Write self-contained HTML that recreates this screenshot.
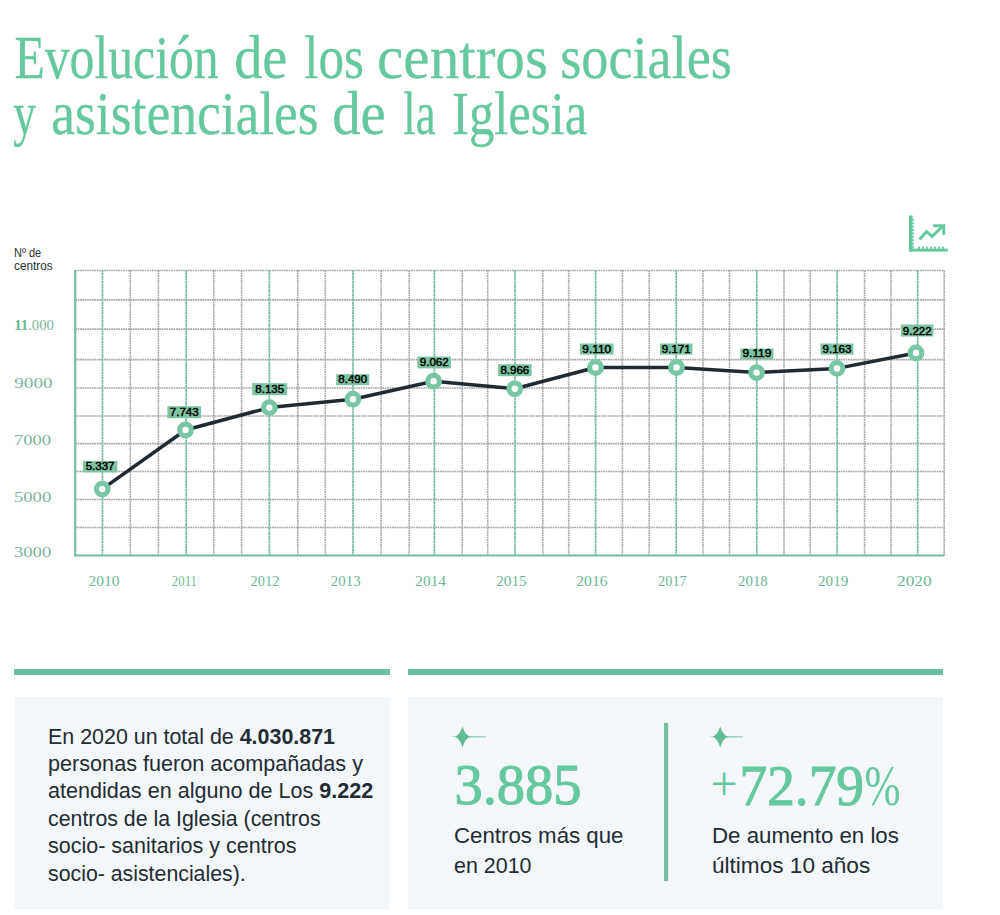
<!DOCTYPE html>
<html><head><meta charset="utf-8"><title>Evolución de los centros sociales y asistenciales de la Iglesia</title>
<style>
html,body{margin:0;padding:0;background:#fff;}
body{width:1000px;height:915px;position:relative;overflow:hidden;}
.full{position:absolute;left:0;top:0;display:block;}
.ti{font-family:"Liberation Serif",serif;font-size:62px;fill:#66c89e;stroke:#66c89e;stroke-width:0.3px;}
.lb{font-family:"Liberation Sans",sans-serif;font-size:11px;font-weight:400;fill:#000;stroke:#000;stroke-width:0.45px;}
.yr{font-family:"Liberation Serif",serif;font-size:15.5px;fill:#6db796;}
.yl{font-family:"Liberation Serif",serif;font-size:15.5px;fill:#80b3a0;}
.nd{font-family:"Liberation Sans",sans-serif;font-size:12px;fill:#2a2f33;}
.bd{font-family:"Liberation Sans",sans-serif;font-size:21.5px;fill:#232b33;}
.bg{font-family:"Liberation Serif",serif;font-size:58px;font-weight:400;fill:#66c89e;stroke:#66c89e;stroke-width:1.1px;}
</style></head><body>
<svg class="full" width="1000" height="915" viewBox="0 0 1000 915">
<text x="14.4" y="78.0" class="ti" textLength="204.3" lengthAdjust="spacingAndGlyphs">Evolución</text>
<text x="234.2" y="78.0" class="ti" textLength="53.2" lengthAdjust="spacingAndGlyphs">de</text>
<text x="304.2" y="78.0" class="ti" textLength="59.8" lengthAdjust="spacingAndGlyphs">los</text>
<text x="377.1" y="78.0" class="ti" textLength="170.9" lengthAdjust="spacingAndGlyphs">centros</text>
<text x="560.2" y="78.0" class="ti" textLength="171.7" lengthAdjust="spacingAndGlyphs">sociales</text>
<text x="13.3" y="134.0" class="ti" textLength="22.7" lengthAdjust="spacingAndGlyphs">y</text>
<text x="51.3" y="134.0" class="ti" textLength="267.4" lengthAdjust="spacingAndGlyphs">asistenciales</text>
<text x="332.2" y="134.0" class="ti" textLength="53.6" lengthAdjust="spacingAndGlyphs">de</text>
<text x="403.3" y="134.0" class="ti" textLength="32.3" lengthAdjust="spacingAndGlyphs">la</text>
<text x="452.0" y="134.0" class="ti" textLength="135.2" lengthAdjust="spacingAndGlyphs">Iglesia</text>
<line x1="75.2" y1="270.5" x2="944.2" y2="270.5" stroke="#a4a4a4" stroke-width="1.6" stroke-dasharray="1.7 0.7"/>
<line x1="75.2" y1="299.9" x2="944.2" y2="299.9" stroke="#a4a4a4" stroke-width="1.6" stroke-dasharray="1.7 0.7"/>
<line x1="75.2" y1="329.1" x2="944.2" y2="329.1" stroke="#a4a4a4" stroke-width="1.6" stroke-dasharray="1.7 0.7"/>
<line x1="75.2" y1="359.6" x2="944.2" y2="359.6" stroke="#a4a4a4" stroke-width="1.6" stroke-dasharray="1.7 0.7"/>
<line x1="75.2" y1="388.0" x2="944.2" y2="388.0" stroke="#a4a4a4" stroke-width="1.6" stroke-dasharray="1.7 0.7"/>
<line x1="75.2" y1="416.0" x2="944.2" y2="416.0" stroke="#a4a4a4" stroke-width="1.6" stroke-dasharray="1.7 0.7"/>
<line x1="75.2" y1="443.6" x2="944.2" y2="443.6" stroke="#a4a4a4" stroke-width="1.6" stroke-dasharray="1.7 0.7"/>
<line x1="75.2" y1="471.5" x2="944.2" y2="471.5" stroke="#a4a4a4" stroke-width="1.6" stroke-dasharray="1.7 0.7"/>
<line x1="75.2" y1="499.5" x2="944.2" y2="499.5" stroke="#a4a4a4" stroke-width="1.6" stroke-dasharray="1.7 0.7"/>
<line x1="75.2" y1="527.5" x2="944.2" y2="527.5" stroke="#a4a4a4" stroke-width="1.6" stroke-dasharray="1.7 0.7"/>
<line x1="102.5" y1="270.5" x2="102.5" y2="555.5" stroke="#72b9a1" stroke-width="1.7" stroke-dasharray="2.2 0.4"/>
<line x1="130.3" y1="270.5" x2="130.3" y2="555.5" stroke="#a4a4a4" stroke-width="1.6" stroke-dasharray="1.7 0.7"/>
<line x1="158.4" y1="270.5" x2="158.4" y2="555.5" stroke="#a4a4a4" stroke-width="1.6" stroke-dasharray="1.7 0.7"/>
<line x1="186.2" y1="270.5" x2="186.2" y2="555.5" stroke="#72b9a1" stroke-width="1.7" stroke-dasharray="2.2 0.4"/>
<line x1="213.8" y1="270.5" x2="213.8" y2="555.5" stroke="#a4a4a4" stroke-width="1.6" stroke-dasharray="1.7 0.7"/>
<line x1="241.6" y1="270.5" x2="241.6" y2="555.5" stroke="#a4a4a4" stroke-width="1.6" stroke-dasharray="1.7 0.7"/>
<line x1="269.4" y1="270.5" x2="269.4" y2="555.5" stroke="#72b9a1" stroke-width="1.7" stroke-dasharray="2.2 0.4"/>
<line x1="297.8" y1="270.5" x2="297.8" y2="555.5" stroke="#a4a4a4" stroke-width="1.6" stroke-dasharray="1.7 0.7"/>
<line x1="325.3" y1="270.5" x2="325.3" y2="555.5" stroke="#a4a4a4" stroke-width="1.6" stroke-dasharray="1.7 0.7"/>
<line x1="353.0" y1="270.5" x2="353.0" y2="555.5" stroke="#72b9a1" stroke-width="1.7" stroke-dasharray="2.2 0.4"/>
<line x1="381.1" y1="270.5" x2="381.1" y2="555.5" stroke="#a4a4a4" stroke-width="1.6" stroke-dasharray="1.7 0.7"/>
<line x1="409.2" y1="270.5" x2="409.2" y2="555.5" stroke="#a4a4a4" stroke-width="1.6" stroke-dasharray="1.7 0.7"/>
<line x1="434.4" y1="270.5" x2="434.4" y2="555.5" stroke="#72b9a1" stroke-width="1.7" stroke-dasharray="2.2 0.4"/>
<line x1="462.2" y1="270.5" x2="462.2" y2="555.5" stroke="#a4a4a4" stroke-width="1.6" stroke-dasharray="1.7 0.7"/>
<line x1="487.7" y1="270.5" x2="487.7" y2="555.5" stroke="#a4a4a4" stroke-width="1.6" stroke-dasharray="1.7 0.7"/>
<line x1="515.0" y1="270.5" x2="515.0" y2="555.5" stroke="#72b9a1" stroke-width="1.7" stroke-dasharray="2.2 0.4"/>
<line x1="542.8" y1="270.5" x2="542.8" y2="555.5" stroke="#a4a4a4" stroke-width="1.6" stroke-dasharray="1.7 0.7"/>
<line x1="568.7" y1="270.5" x2="568.7" y2="555.5" stroke="#a4a4a4" stroke-width="1.6" stroke-dasharray="1.7 0.7"/>
<line x1="595.6" y1="270.5" x2="595.6" y2="555.5" stroke="#72b9a1" stroke-width="1.7" stroke-dasharray="2.2 0.4"/>
<line x1="622.4" y1="270.5" x2="622.4" y2="555.5" stroke="#a4a4a4" stroke-width="1.6" stroke-dasharray="1.7 0.7"/>
<line x1="649.2" y1="270.5" x2="649.2" y2="555.5" stroke="#a4a4a4" stroke-width="1.6" stroke-dasharray="1.7 0.7"/>
<line x1="676.2" y1="270.5" x2="676.2" y2="555.5" stroke="#72b9a1" stroke-width="1.7" stroke-dasharray="2.2 0.4"/>
<line x1="703.0" y1="270.5" x2="703.0" y2="555.5" stroke="#a4a4a4" stroke-width="1.6" stroke-dasharray="1.7 0.7"/>
<line x1="729.5" y1="270.5" x2="729.5" y2="555.5" stroke="#a4a4a4" stroke-width="1.6" stroke-dasharray="1.7 0.7"/>
<line x1="756.8" y1="270.5" x2="756.8" y2="555.5" stroke="#72b9a1" stroke-width="1.7" stroke-dasharray="2.2 0.4"/>
<line x1="784.0" y1="270.5" x2="784.0" y2="555.5" stroke="#a4a4a4" stroke-width="1.6" stroke-dasharray="1.7 0.7"/>
<line x1="810.2" y1="270.5" x2="810.2" y2="555.5" stroke="#a4a4a4" stroke-width="1.6" stroke-dasharray="1.7 0.7"/>
<line x1="837.2" y1="270.5" x2="837.2" y2="555.5" stroke="#72b9a1" stroke-width="1.7" stroke-dasharray="2.2 0.4"/>
<line x1="864.6" y1="270.5" x2="864.6" y2="555.5" stroke="#a4a4a4" stroke-width="1.6" stroke-dasharray="1.7 0.7"/>
<line x1="891.0" y1="270.5" x2="891.0" y2="555.5" stroke="#a4a4a4" stroke-width="1.6" stroke-dasharray="1.7 0.7"/>
<line x1="917.7" y1="270.5" x2="917.7" y2="555.5" stroke="#72b9a1" stroke-width="1.7" stroke-dasharray="2.2 0.4"/>
<line x1="944.2" y1="270.5" x2="944.2" y2="555.5" stroke="#a4a4a4" stroke-width="1.6" stroke-dasharray="1.7 0.7"/>
<line x1="75.2" y1="270.0" x2="75.2" y2="556.5" stroke="#78bca3" stroke-width="2.2"/>
<line x1="74.2" y1="555.5" x2="944.2" y2="555.5" stroke="#78bca3" stroke-width="2.2"/>
<path d="M102.2,489.1 L185.5,430.0 L269.3,407.6 L352.9,399.2 L433.6,381.2 L514.8,388.8 L595.5,367.5 L676.5,367.5 L756.6,372.6 L837.0,368.4 L916.0,353.0" fill="none" stroke="#1f2a32" stroke-width="3.5" stroke-linejoin="round"/>
<circle cx="102.2" cy="489.1" r="5.8" fill="#fff" stroke="#79c6a4" stroke-width="5.2"/>
<circle cx="185.5" cy="430.0" r="5.8" fill="#fff" stroke="#79c6a4" stroke-width="5.2"/>
<circle cx="269.3" cy="407.6" r="5.8" fill="#fff" stroke="#79c6a4" stroke-width="5.2"/>
<circle cx="352.9" cy="399.2" r="5.8" fill="#fff" stroke="#79c6a4" stroke-width="5.2"/>
<circle cx="433.6" cy="381.2" r="5.8" fill="#fff" stroke="#79c6a4" stroke-width="5.2"/>
<circle cx="514.8" cy="388.8" r="5.8" fill="#fff" stroke="#79c6a4" stroke-width="5.2"/>
<circle cx="595.5" cy="367.5" r="5.8" fill="#fff" stroke="#79c6a4" stroke-width="5.2"/>
<circle cx="676.5" cy="367.5" r="5.8" fill="#fff" stroke="#79c6a4" stroke-width="5.2"/>
<circle cx="756.6" cy="372.6" r="5.8" fill="#fff" stroke="#79c6a4" stroke-width="5.2"/>
<circle cx="837.0" cy="368.4" r="5.8" fill="#fff" stroke="#79c6a4" stroke-width="5.2"/>
<circle cx="916.0" cy="353.0" r="5.8" fill="#fff" stroke="#79c6a4" stroke-width="5.2"/>
<rect x="82.9" y="460.9" width="34.4" height="11.5" fill="#7cc4a2"/>
<text x="85.7" y="470.4" class="lb" textLength="28.8" lengthAdjust="spacingAndGlyphs">5.337</text>
<rect x="167.4" y="406.2" width="33.6" height="12.0" fill="#7cc4a2"/>
<text x="169.8" y="416.2" class="lb" textLength="28.8" lengthAdjust="spacingAndGlyphs">7.743</text>
<rect x="252.2" y="383.2" width="35.0" height="12.0" fill="#7cc4a2"/>
<text x="255.3" y="393.2" class="lb" textLength="28.8" lengthAdjust="spacingAndGlyphs">8.135</text>
<rect x="336.2" y="374.2" width="33.0" height="11.0" fill="#7cc4a2"/>
<text x="338.3" y="383.2" class="lb" textLength="28.8" lengthAdjust="spacingAndGlyphs">8.490</text>
<rect x="417.4" y="356.6" width="33.6" height="11.8" fill="#7cc4a2"/>
<text x="419.8" y="366.4" class="lb" textLength="28.8" lengthAdjust="spacingAndGlyphs">9.062</text>
<rect x="498.0" y="364.2" width="33.6" height="12.0" fill="#7cc4a2"/>
<text x="500.4" y="374.2" class="lb" textLength="28.8" lengthAdjust="spacingAndGlyphs">8.966</text>
<rect x="579.9" y="343.5" width="33.6" height="11.1" fill="#7cc4a2"/>
<text x="582.3" y="352.6" class="lb" textLength="28.8" lengthAdjust="spacingAndGlyphs">9.110</text>
<rect x="660.0" y="343.5" width="32.4" height="11.1" fill="#7cc4a2"/>
<text x="661.8" y="352.6" class="lb" textLength="28.8" lengthAdjust="spacingAndGlyphs">9.171</text>
<rect x="740.4" y="348.6" width="33.0" height="10.8" fill="#7cc4a2"/>
<text x="742.5" y="357.4" class="lb" textLength="28.8" lengthAdjust="spacingAndGlyphs">9.119</text>
<rect x="820.5" y="343.5" width="33.0" height="11.1" fill="#7cc4a2"/>
<text x="822.6" y="352.6" class="lb" textLength="28.8" lengthAdjust="spacingAndGlyphs">9.163</text>
<rect x="901.0" y="324.5" width="32.4" height="12.0" fill="#7cc4a2"/>
<text x="902.8" y="334.5" class="lb" textLength="28.8" lengthAdjust="spacingAndGlyphs">9.222</text>
<text x="88.6" y="586.3" class="yr" textLength="31.0" lengthAdjust="spacingAndGlyphs">2010</text>
<text x="171.8" y="586.3" class="yr" textLength="25.2" lengthAdjust="spacingAndGlyphs">2011</text>
<text x="250.6" y="586.3" class="yr" textLength="28.9" lengthAdjust="spacingAndGlyphs">2012</text>
<text x="330.8" y="586.3" class="yr" textLength="29.8" lengthAdjust="spacingAndGlyphs">2013</text>
<text x="415.2" y="586.3" class="yr" textLength="30.8" lengthAdjust="spacingAndGlyphs">2014</text>
<text x="496.2" y="586.3" class="yr" textLength="30.4" lengthAdjust="spacingAndGlyphs">2015</text>
<text x="576.2" y="586.3" class="yr" textLength="31.4" lengthAdjust="spacingAndGlyphs">2016</text>
<text x="658.0" y="586.3" class="yr" textLength="28.8" lengthAdjust="spacingAndGlyphs">2017</text>
<text x="738.0" y="586.3" class="yr" textLength="29.8" lengthAdjust="spacingAndGlyphs">2018</text>
<text x="818.0" y="586.3" class="yr" textLength="30.4" lengthAdjust="spacingAndGlyphs">2019</text>
<text x="897.0" y="586.3" class="yr" textLength="34.6" lengthAdjust="spacingAndGlyphs">2020</text>
<text x="14.2" y="329.7" class="yl" textLength="39.8" lengthAdjust="spacingAndGlyphs"><tspan font-weight="700" fill="#6db897">11</tspan>.000</text>
<text x="14.2" y="387.5" class="yl" textLength="38.4" lengthAdjust="spacingAndGlyphs">9000</text>
<text x="13.9" y="444.9" class="yl" textLength="37.1" lengthAdjust="spacingAndGlyphs">7000</text>
<text x="13.9" y="501.5" class="yl" textLength="37.4" lengthAdjust="spacingAndGlyphs">5000</text>
<text x="13.9" y="557.0" class="yl" textLength="37.4" lengthAdjust="spacingAndGlyphs">3000</text>
<text x="14.0" y="256.8" class="nd" textLength="27.2" lengthAdjust="spacingAndGlyphs">Nº de</text>
<text x="14.0" y="269.6" class="nd" textLength="38.6" lengthAdjust="spacingAndGlyphs">centros</text>
<g fill="#66c89e">
<rect x="909" y="215.5" width="3.6" height="36"/>
<rect x="909" y="248.6" width="38.8" height="3"/><rect x="912.4" y="219.0" width="1.6" height="1.6"/><rect x="912.4" y="222.4" width="1.6" height="1.6"/><rect x="912.4" y="225.8" width="1.6" height="1.6"/><rect x="912.4" y="229.2" width="1.6" height="1.6"/><rect x="912.4" y="232.6" width="1.6" height="1.6"/><rect x="912.4" y="236.0" width="1.6" height="1.6"/><rect x="912.4" y="239.4" width="1.6" height="1.6"/><rect x="912.4" y="242.8" width="1.6" height="1.6"/><rect x="912.4" y="246.2" width="1.6" height="1.6"/><rect x="918.0" y="246.8" width="2" height="2"/><rect x="922.0" y="246.8" width="2" height="2"/><rect x="926.0" y="246.8" width="2" height="2"/><rect x="930.0" y="246.8" width="2" height="2"/><rect x="934.0" y="246.8" width="2" height="2"/><rect x="938.0" y="246.8" width="2" height="2"/><rect x="942.0" y="246.8" width="2" height="2"/></g>
<path d="M919.6,239.6 L926.6,231.6 L932.2,236.4 L941.8,227" fill="none" stroke="#66c89e" stroke-width="3" stroke-linecap="butt"/>
<path d="M933.2,225.8 L943.8,225.8 L943.8,234.8" fill="none" stroke="#66c89e" stroke-width="3"/>
<rect x="14" y="669" width="376" height="6" fill="#6dbf9f"/>
<rect x="408" y="669" width="535" height="6" fill="#6dbf9f"/>
<rect x="14.5" y="697" width="375" height="212" fill="#f3f7fa"/>
<rect x="408" y="697" width="535" height="212" fill="#f3f7fa"/>
<text x="48.0" y="743.5" class="bd" textLength="287.0" lengthAdjust="spacingAndGlyphs">En 2020 un total de <tspan font-weight="700">4.030.871</tspan></text>
<text x="48.0" y="770.8" class="bd" textLength="315.0" lengthAdjust="spacingAndGlyphs">personas fueron acompañadas y</text>
<text x="48.0" y="798.0" class="bd" textLength="325.4" lengthAdjust="spacingAndGlyphs">atendidas en alguno de Los <tspan font-weight="700">9.222</tspan></text>
<text x="48.0" y="825.5" class="bd" textLength="272.6" lengthAdjust="spacingAndGlyphs">centros de la Iglesia (centros</text>
<text x="48.0" y="853.1" class="bd" textLength="248.5" lengthAdjust="spacingAndGlyphs">socio- sanitarios y centros</text>
<text x="48.0" y="880.5" class="bd" textLength="197.7" lengthAdjust="spacingAndGlyphs">socio- asistenciales).</text>
<text x="454.0" y="843.0" class="bd" textLength="169.5" lengthAdjust="spacingAndGlyphs">Centros más que</text>
<text x="454.0" y="872.5" class="bd" textLength="77.5" lengthAdjust="spacingAndGlyphs">en 2010</text>
<text x="712.0" y="843.3" class="bd" textLength="186.9" lengthAdjust="spacingAndGlyphs">De aumento en los</text>
<text x="712.0" y="872.7" class="bd" textLength="158.2" lengthAdjust="spacingAndGlyphs">últimos 10 años</text>
<text x="454.5" y="804.0" class="bg" textLength="127.0" lengthAdjust="spacingAndGlyphs">3.885</text>
<text x="710.5" y="799.5" class="bg" style="font-size:48px;stroke-width:0">+</text>
<text x="739.5" y="804.5" class="bg" textLength="124.5" lengthAdjust="spacingAndGlyphs">72.79</text>
<text x="864.5" y="804.5" class="bg" textLength="36.0" lengthAdjust="spacingAndGlyphs" style="stroke-width:0">%</text>
<g fill="#62bc96"><path d="M462.5,726.1999999999999 Q464.8,734.5 469.9,736.8 Q464.8,739.0999999999999 462.5,747.8 Q460.2,739.0999999999999 455.1,736.8 Q460.2,734.5 462.5,726.1999999999999Z"/><path d="M450.0,736.8 L462.5,736.1999999999999 L486.0,736.5 L486.0,737.1999999999999 L462.5,737.4Z"/><path d="M720.2,726.1999999999999 Q722.5,734.5 727.6,736.8 Q722.5,739.0999999999999 720.2,747.8 Q717.9000000000001,739.0999999999999 712.8000000000001,736.8 Q717.9000000000001,734.5 720.2,726.1999999999999Z"/><path d="M708.5,736.8 L720.2,736.1999999999999 L743.2,736.5 L743.2,737.1999999999999 L720.2,737.4Z"/></g>
<rect x="664" y="723" width="4.2" height="158" fill="#74c1a1"/>
</svg>
</body></html>
